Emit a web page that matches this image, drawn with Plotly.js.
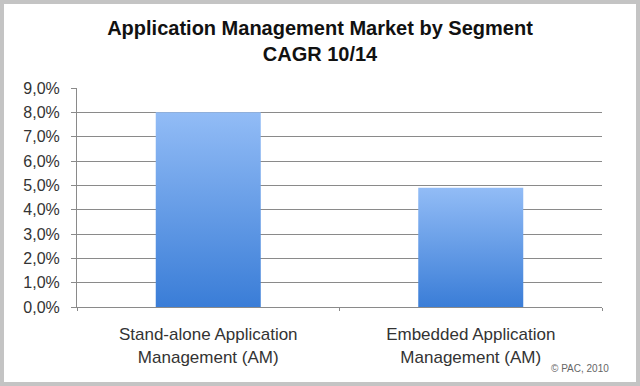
<!DOCTYPE html>
<html><head><meta charset="utf-8">
<script src="https://cdn.plot.ly/plotly-3.0.1.min.js"></script>
<style>
body{margin:0;padding:0;background:#fff;}
#wrap{position:relative;width:640px;height:386px;}
#frame{position:absolute;left:0;top:0;width:640px;height:386px;box-sizing:border-box;border:4px solid #c4c4c4;pointer-events:none;}
</style></head>
<body>
<div id="wrap"><div id="chart" style="width:640px;height:386px;"></div><div id="frame"></div></div>
<script>
const categories = ["Stand-alone Application<br>Management (AM)", "Embedded Application<br>Management (AM)"];
const cagr = [0.080, 0.049];
const yTicks = [0,0.01,0.02,0.03,0.04,0.05,0.06,0.07,0.08,0.09];

const trace = {
  type: 'bar', x: categories, y: cagr,
  marker: {color: '#5f9ae8', line: {width: 0}},
  hoverinfo: 'skip'
};
const layout = {
  width: 640, height: 386,
  margin: {l: 77, r: 38, t: 88, b: 79},
  paper_bgcolor: '#ffffff', plot_bgcolor: '#ffffff',
  separators: ',.',
  showlegend: false,
  bargap: 0.6,
  font: {family: 'Liberation Sans, Arial, sans-serif', color: '#333'},
  title: {
    text: '<b>Application Management Market by Segment<br>CAGR 10/14</b>',
    font: {family: 'Liberation Sans, Arial, sans-serif', size: 20, color: '#111'},
    x: 0.5, xanchor: 'center', yref: 'container', y: 1 - 35/386, yanchor: 'top'
  },
  xaxis: {
    showline: true, linecolor: '#8a8a8a', linewidth: 1,
    ticks: 'outside', tickson: 'boundaries', ticklen: 3, tickcolor: '#8a8a8a',
    ticklabelstandoff: 12,
    tickfont: {size: 17, color: '#333'}, fixedrange: true
  },
  yaxis: {
    range: [0, 0.09], tickvals: yTicks, tickformat: '.1%',
    showline: true, linecolor: '#8a8a8a', linewidth: 1,
    showgrid: true, gridcolor: '#8a8a8a', gridwidth: 1,
    ticks: 'outside', ticklen: 5, tickcolor: '#8a8a8a',
    ticklabelstandoff: 8,
    tickfont: {size: 16, color: '#333'}, zeroline: false, fixedrange: true
  },
  annotations: [{
    text: '© PAC, 2010', xref: 'paper', yref: 'paper', x: 1.017, y: -0.283,
    xanchor: 'right', yanchor: 'middle', showarrow: false,
    font: {size: 10, color: '#666'}
  }]
};
Plotly.newPlot('chart', [trace], layout, {displayModeBar: false, staticPlot: true}).then(function(gd){
  const svg = gd.querySelector('svg.main-svg');
  const ns = 'http://www.w3.org/2000/svg';
  let defs = svg.querySelector('defs');
  if(!defs){defs = document.createElementNS(ns,'defs'); svg.insertBefore(defs, svg.firstChild);}
  const lg = document.createElementNS(ns,'linearGradient');
  lg.setAttribute('id','barGrad'); lg.setAttribute('x1','0'); lg.setAttribute('y1','0'); lg.setAttribute('x2','0'); lg.setAttribute('y2','1');
  [['0%','#92bcf6'],['100%','#3a7dd7']].forEach(function(s){
    const st = document.createElementNS(ns,'stop');
    st.setAttribute('offset', s[0]); st.setAttribute('stop-color', s[1]);
    lg.appendChild(st);
  });
  defs.appendChild(lg);
  gd.querySelectorAll('.bars .point path').forEach(function(p){ p.style.fill = 'url(#barGrad)'; });
});
</script>
</body></html>
